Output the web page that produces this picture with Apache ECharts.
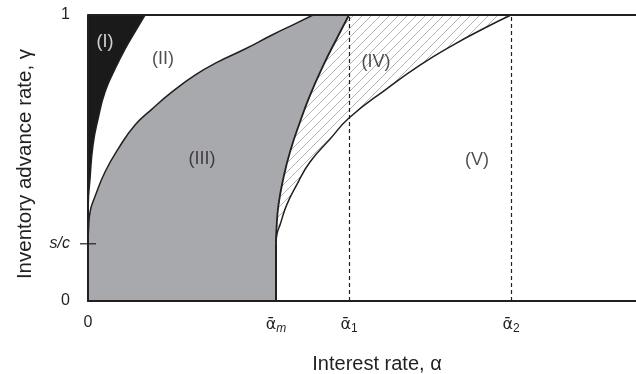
<!DOCTYPE html>
<html>
<head>
<meta charset="utf-8">
<script src="https://cdn.jsdelivr.net/npm/echarts@6/dist/echarts.min.js"></script>
<style>
  html, body { margin: 0; padding: 0; background: #fff; }
  #main { width: 636px; height: 374px; }
</style>
</head>
<body>
<div id="main"></div>
<script>
// tick positions (x in arbitrary units, y = advance rate)
var xTickValues = [0, 1.88, 2.61, 4.23];
var xTickLabels = ['0', '{a|\u1FB1}{m|m}', '{a|\u1FB1}{n|1}', '{a|\u1FB1}{n|2}'];
var yTickValues = [0, 0.2, 1];
var yTickLabels = ['0', '{i|s/c}', '1'];

// boundary curves, [alpha, gamma], left to right
var curveI = [[0, 0.2], [0.003, 0.34], [0.02, 0.427], [0.05, 0.545], [0.10, 0.636], [0.17, 0.731],
  [0.27, 0.811], [0.37, 0.881], [0.47, 0.941], [0.57, 1]];
var curveA = [[0, 0.2], [0.005, 0.248], [0.02, 0.311], [0.07, 0.365], [0.17, 0.451], [0.30, 0.531],
  [0.47, 0.615], [0.64, 0.671], [0.84, 0.731], [1.07, 0.790], [1.30, 0.836], [1.57, 0.881],
  [1.84, 0.930], [2.07, 0.969], [2.25, 1]];
var curveB = [[1.88, 0.2], [1.885, 0.253], [1.905, 0.336], [1.953, 0.428], [2.02, 0.521], [2.12, 0.626],
  [2.22, 0.719], [2.353, 0.824], [2.487, 0.917], [2.61, 1]];
var curveC = [[1.88, 0.2], [1.89, 0.235], [1.92, 0.266], [1.987, 0.336], [2.087, 0.406], [2.22, 0.486],
  [2.42, 0.566], [2.61, 0.640], [2.987, 0.742], [3.32, 0.825], [3.65, 0.895], [3.987, 0.958], [4.23, 1]];
var edgeM = [[1.88, 0], [1.88, 0.2]];

var regionNames = ['(I)', '(II)', '(III)', '(IV)', '(V)'];
var regionX = [0.17, 0.75, 1.14, 2.88, 3.89];
var regionY = [0.906, 0.846, 0.497, 0.836, 0.493];

var dashedAt = [2.61, 4.23];

var pat = document.createElement('canvas');
pat.width = 9; pat.height = 9;
var pc = pat.getContext('2d');
pc.fillStyle = '#fff';
pc.fillRect(0, 0, 9, 9);
pc.strokeStyle = '#b4b4b4';
pc.lineWidth = 1;
pc.beginPath();
pc.moveTo(-1, 10); pc.lineTo(10, -1);
pc.moveTo(-1, 1); pc.lineTo(1, -1);
pc.moveTo(8, 10); pc.lineTo(10, 8);
pc.stroke();
var hatch = { image: pat, repeat: 'repeat' };

var ink = '#231f20';
var gray = '#a7a9ac';
var font = "'Liberation Sans', Arial, sans-serif";

// layered area fills: each one fills down to gamma = 0
function areaSeries(name, pts, fill, lineW, smooth) {
  return {
    type: 'line', name: name, data: pts, symbol: 'none', showSymbol: false, silent: true,
    smooth: smooth, z: 2,
    lineStyle: { color: ink, width: lineW },
    areaStyle: { color: fill, opacity: 1 }
  };
}
function last(c) { return c[c.length - 1]; }

var myChart = echarts.init(document.getElementById('main'));
var option = {
  backgroundColor: '#fff',
  animation: false,
  grid: { left: 88, right: 0, top: 15, bottom: 73, outerBoundsMode: 'none' },
  xAxis: {
    type: 'value', min: 0, max: 5.48, z: 5,
    name: 'Interest rate, \u03B1', nameLocation: 'middle', nameGap: 53,
    nameTextStyle: { fontSize: 20, color: ink, fontFamily: font, padding: [0, 0, 0, 30] },
    axisLine: { lineStyle: { color: ink, width: 2 } },
    axisTick: { show: false },
    splitLine: { show: false },
    axisLabel: {
      customValues: xTickValues, margin: 14, color: ink, fontSize: 16, fontFamily: font,
      formatter: function (v) {
        for (var i = 0; i < xTickValues.length; i++) {
          if (Math.abs(xTickValues[i] - v) < 1e-6) return xTickLabels[i];
        }
        return '';
      },
      rich: {
        a: { fontSize: 16, lineHeight: 20, color: ink, fontFamily: "'DejaVu Sans', sans-serif" },
        m: { fontSize: 12, lineHeight: 12, verticalAlign: 'bottom', fontStyle: 'italic', color: ink, fontFamily: font },
        n: { fontSize: 12, lineHeight: 12, verticalAlign: 'bottom', color: ink, fontFamily: font }
      }
    }
  },
  yAxis: {
    type: 'value', min: 0, max: 1, z: 5,
    name: 'Inventory advance rate, \u03B3', nameLocation: 'middle', nameGap: 52,
    nameTextStyle: { fontSize: 20.5, color: ink, fontFamily: font, padding: [0, 12, 0, 0] },
    axisLine: { lineStyle: { color: ink, width: 2 } },
    axisTick: { show: false },
    splitLine: { show: false },
    axisLabel: {
      customValues: yTickValues, margin: 18, color: ink, fontSize: 16, fontFamily: font,
      formatter: function (v) {
        for (var i = 0; i < yTickValues.length; i++) {
          if (Math.abs(yTickValues[i] - v) < 1e-6) return yTickLabels[i];
        }
        return '';
      },
      rich: { i: { fontSize: 16, fontStyle: 'italic', color: ink, fontFamily: font } }
    }
  },
  series: [
    areaSeries('I', [[0, 1], [last(curveI)[0], 1]], '#1a1a1a', 0, false),
    areaSeries('II', curveI, '#fff', 1.5, true),
    areaSeries('III', curveA, gray, 1.5, true),
    areaSeries('III top', [[last(curveA)[0], 1], [last(curveB)[0], 1]], gray, 0, false),
    areaSeries('IV', curveB, hatch, 1.8, true),
    areaSeries('IV top', [[last(curveB)[0], 1], [last(curveC)[0], 1]], hatch, 0, false),
    areaSeries('V', curveC, '#fff', 1.5, true),
    {
      type: 'line', name: 'edgeM', data: edgeM, symbol: 'none', silent: true, z: 3,
      lineStyle: { color: ink, width: 2 }
    },
    {
      // short tick across the axis at s/c
      type: 'custom', name: 'scTick', silent: true, z: 6, data: [[0, yTickValues[1]]],
      renderItem: function (params, api) {
        var p = api.coord([api.value(0), api.value(1)]);
        return {
          type: 'line',
          shape: { x1: p[0] - 8, y1: p[1], x2: p[0] + 8, y2: p[1] },
          style: { stroke: ink, lineWidth: 1.2 }
        };
      }
    },
    {
      type: 'scatter', name: 'regions', symbolSize: 0, silent: true, z: 8,
      data: regionNames.map(function (n, i) { return { name: n, value: [regionX[i], regionY[i]] }; }),
      label: {
        show: true, position: 'inside', fontSize: 18, fontFamily: font,
        formatter: function (p) { return p.name; },
        color: ink
      },
      labelLayout: { hideOverlap: false },
      markLine: {
        silent: true, symbol: 'none', label: { show: false },
        data: [
          [{ coord: [dashedAt[0], 0], lineStyle: { type: [4, 3], width: 1.2, color: ink } }, { coord: [dashedAt[0], 1] }],
          [{ coord: [dashedAt[1], 0], lineStyle: { type: [4, 3], width: 1.2, color: ink } }, { coord: [dashedAt[1], 1] }],
          { yAxis: 1, lineStyle: { type: 'solid', width: 2, color: ink } }
        ]
      }
    }
  ]
};
// region (I) label sits on black
option.series[9].data[0].label = { color: '#fff' };
myChart.setOption(option);
</script>
</body>
</html>
